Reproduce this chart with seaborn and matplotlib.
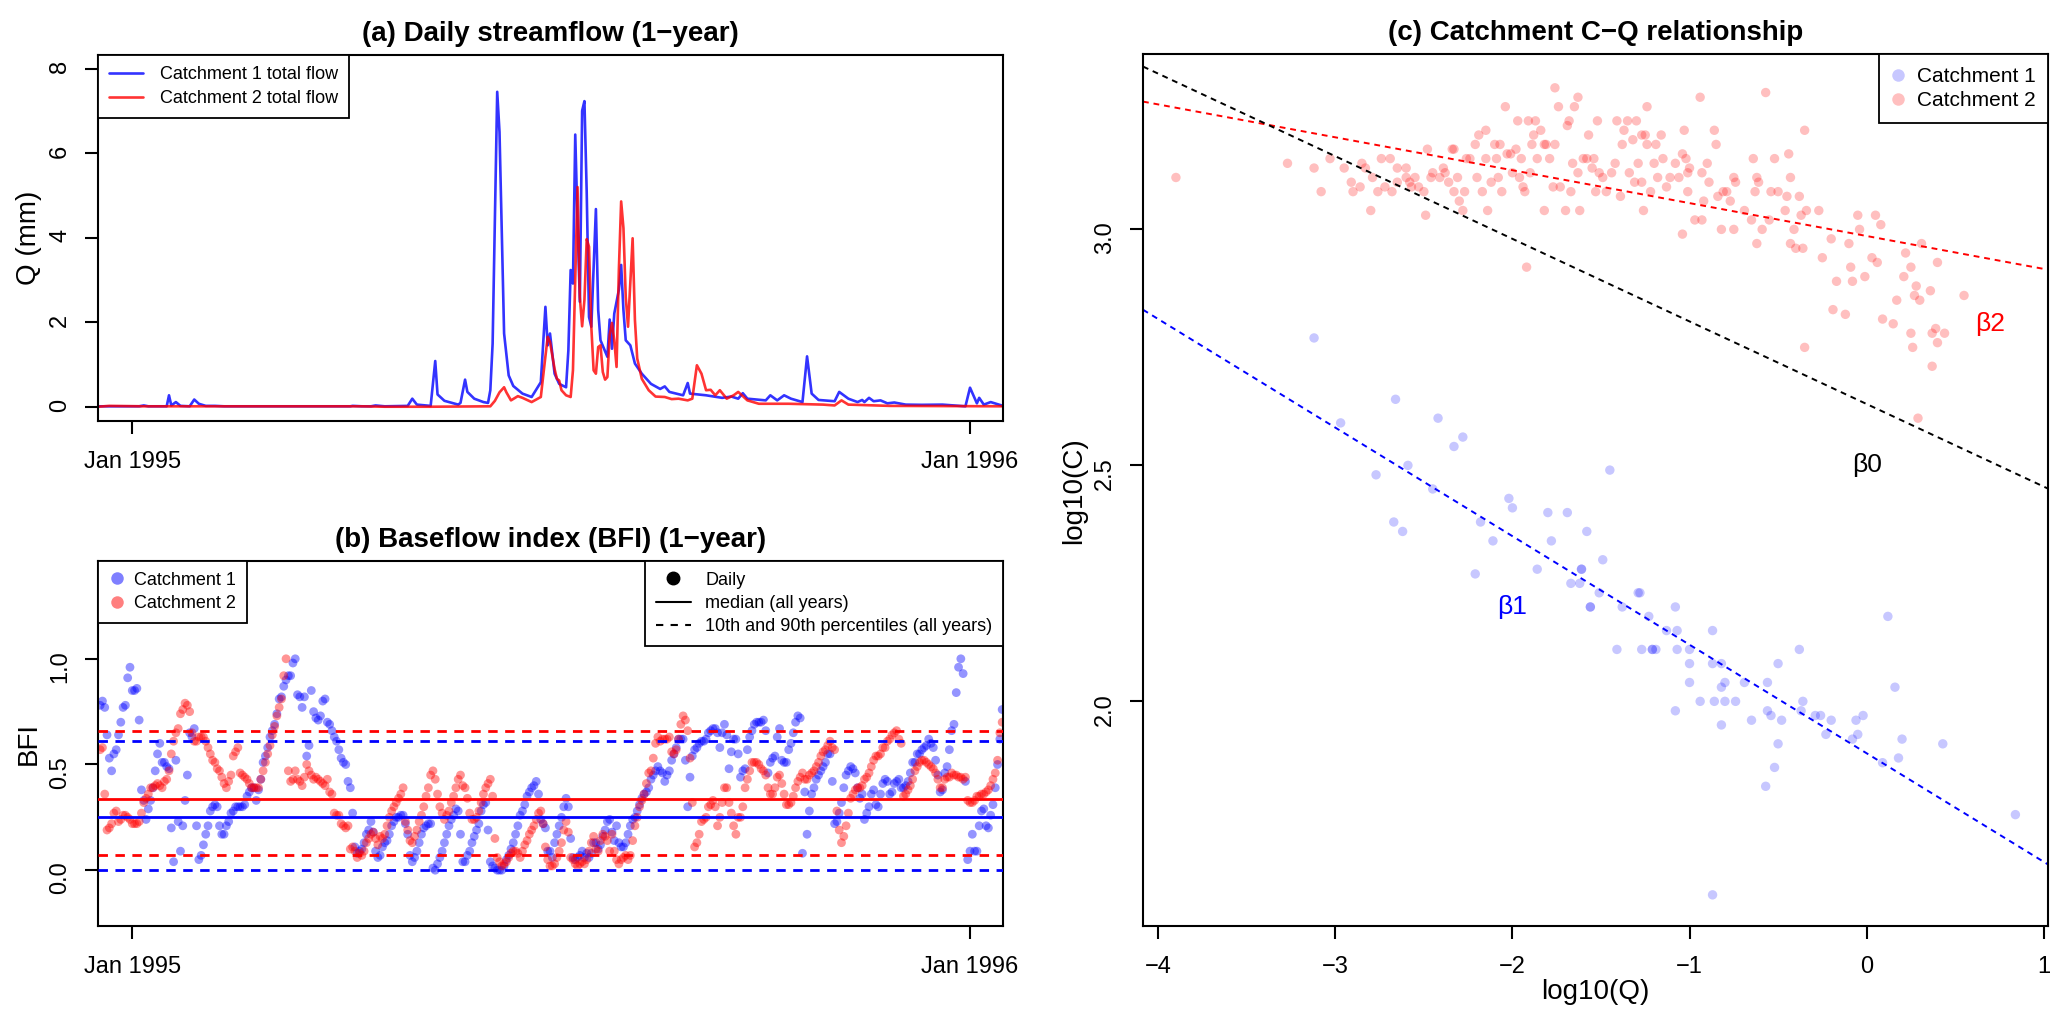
import pandas as pd
import matplotlib
matplotlib.use("Agg")
import matplotlib.pyplot as plt
import matplotlib.dates as mdates
from matplotlib.lines import Line2D
import seaborn as sns

# ---------------- data ----------------
start = pd.Timestamp("1995-01-01")

# (a) daily streamflow, days after 1 Jan 1995 and Q (mm)
flow_day_c1 = [-15, 3, 5, 7, 15, 16, 17, 19, 21, 25, 27, 29, 32, 36, 40, 95, 96, 100, 104, 106,
               110, 120, 122, 124, 130, 132, 133, 136, 142, 143, 145, 146, 149, 153, 155, 156, 157, 159, 160, 162,
               164, 166, 170, 174, 178, 180, 181, 182, 184, 186, 189, 190, 191, 192, 193, 194, 195, 196, 197, 198,
               199, 200, 202, 203, 204, 207, 208, 209, 210, 212, 213, 214, 215, 217, 219, 222, 226, 230, 232, 234,
               240, 242, 243, 250, 257, 261, 264, 266, 268, 276, 278, 281, 284, 287, 292, 294, 296, 299, 306, 308,
               312, 316, 318, 319, 321, 323, 326, 329, 332, 337, 344, 353, 363, 365, 368, 369, 371, 374, 380]
flow_q_c1 = [0.02, 0.02, 0.04, 0.02, 0.02, 0.28, 0.04, 0.12, 0.03, 0.02, 0.18, 0.08, 0.03, 0.03, 0.02, 0.02, 0.03, 0.02, 0.02, 0.04,
             0.02, 0.03, 0.20, 0.06, 0.03, 1.09, 0.30, 0.15, 0.06, 0.10, 0.65, 0.36, 0.20, 0.12, 0.10, 0.40, 1.50, 7.45, 6.50, 1.74,
             0.75, 0.50, 0.32, 0.24, 0.59, 2.37, 1.46, 1.74, 0.79, 0.55, 0.47, 1.34, 3.24, 2.92, 6.44, 4.35, 2.49, 7.00, 7.23, 5.06,
             2.13, 1.90, 4.68, 2.29, 1.58, 1.19, 2.07, 1.38, 2.21, 2.77, 3.36, 2.29, 1.58, 1.46, 1.03, 0.79, 0.55, 0.43, 0.49, 0.36,
             0.28, 0.57, 0.32, 0.28, 0.22, 0.25, 0.20, 0.33, 0.20, 0.16, 0.28, 0.16, 0.28, 0.20, 0.12, 1.20, 0.32, 0.17, 0.14, 0.36,
             0.20, 0.12, 0.17, 0.12, 0.22, 0.14, 0.16, 0.09, 0.11, 0.06, 0.055, 0.06, 0.02, 0.46, 0.09, 0.22, 0.06, 0.12, 0.02]
flow_day_c2 = [-15, -10, 5, 100, 110, 130, 156, 158, 160, 162, 163, 165, 168, 170, 174, 178, 180, 181, 182, 184,
               185, 186, 187, 189, 191, 192, 194, 195, 196, 197, 198, 199, 200, 201, 202, 203, 204, 205, 206, 207,
               208, 209, 210, 211, 212, 213, 214, 215, 216, 218, 219, 220, 222, 225, 228, 232, 235, 238, 242, 244,
               246, 248, 250, 252, 254, 256, 259, 262, 264, 268, 273, 286, 301, 306, 309, 312, 330, 380]
flow_q_c2 = [0.01, 0.03, 0.02, 0.02, 0.01, 0.01, 0.02, 0.15, 0.35, 0.47, 0.35, 0.16, 0.26, 0.22, 0.12, 0.24, 1.20, 1.66, 1.54, 0.90,
             0.67, 0.63, 0.40, 0.28, 0.24, 0.87, 5.20, 2.60, 1.91, 2.53, 3.97, 3.79, 1.90, 0.87, 0.79, 1.42, 1.46, 0.83, 0.65, 0.71,
             1.70, 1.99, 1.58, 0.95, 3.24, 4.86, 4.23, 2.60, 1.90, 3.99, 2.06, 1.15, 0.67, 0.40, 0.25, 0.24, 0.19, 0.20, 0.16, 0.20,
             0.99, 0.79, 0.40, 0.41, 0.28, 0.40, 0.20, 0.28, 0.36, 0.16, 0.08, 0.08, 0.06, 0.04, 0.16, 0.06, 0.03, 0.02]

# (b) daily baseflow index, one value per day from 18 Dec 1994
bfi_start = pd.Timestamp("1994-12-18")
bfi_c1 = [0.78, 0.80, 0.77, 0.64, 0.53, 0.47, 0.55, 0.57, 0.64, 0.70, 0.77, 0.78, 0.91, 0.96, 0.85, 0.85, 0.86, 0.71,
          0.38, 0.33, 0.24, 0.29, 0.33, 0.39, 0.47, 0.55, 0.60, 0.51, 0.51, 0.49, 0.48,
          0.20, 0.04, 0.52, 0.23, 0.09, 0.21, 0.33, 0.45, 0.65, 0.63, 0.67, 0.21, 0.05,
          0.07, 0.12, 0.17, 0.21, 0.28, 0.30, 0.31, 0.30, 0.21, 0.17, 0.17, 0.21, 0.23, 0.27, 0.28, 0.30, 0.30, 0.30,
          0.30, 0.31, 0.35, 0.37, 0.39, 0.39, 0.33, 0.38,
          0.43, 0.51, 0.54, 0.58, 0.63, 0.66, 0.69, 0.74, 0.81, 0.82, 0.87, 0.90, 0.92, 0.92, 0.98, 1.00,
          0.83, 0.82, 0.77, 0.82, 0.54, 0.59, 0.85, 0.75, 0.72, 0.71, 0.73, 0.80, 0.81, 0.70, 0.69, 0.66, 0.63, 0.61,
          0.57, 0.53, 0.51, 0.50, 0.42, 0.39, 0.27,
          0.11, 0.08, 0.09, 0.10, 0.13, 0.17, 0.19, 0.23, 0.18, 0.09, 0.06, 0.07, 0.11, 0.13, 0.14, 0.17, 0.21, 0.23,
          0.25, 0.25, 0.26, 0.26, 0.22, 0.17, 0.07, 0.04, 0.06, 0.09, 0.13, 0.17, 0.20, 0.21, 0.22, 0.22,
          0.01, 0.00, 0.03, 0.06, 0.09, 0.13, 0.17, 0.21, 0.24, 0.26, 0.29, 0.28, 0.17, 0.04, 0.04, 0.07, 0.09, 0.13,
          0.16, 0.19, 0.22, 0.28, 0.31, 0.32,
          0.19, 0.04, 0.02, 0.01, 0.00, 0.00, 0.00, 0.02, 0.05, 0.07, 0.10, 0.13, 0.17, 0.21, 0.26, 0.28, 0.31, 0.35,
          0.37, 0.39, 0.40, 0.42,
          0.36, 0.24, 0.22, 0.20, 0.09, 0.09, 0.06, 0.13,
          0.17, 0.21, 0.25, 0.30, 0.34, 0.30, 0.15, 0.06, 0.05, 0.06, 0.07, 0.09, 0.06, 0.08, 0.06, 0.08,
          0.13, 0.13, 0.10, 0.12, 0.16, 0.19, 0.23, 0.24, 0.18, 0.14, 0.21, 0.13, 0.11, 0.11, 0.13, 0.17, 0.21, 0.24, 0.25,
          0.28, 0.31, 0.34, 0.36, 0.37, 0.39, 0.43, 0.45, 0.47, 0.49, 0.47, 0.46, 0.42, 0.45, 0.47, 0.52, 0.55, 0.58,
          0.62, 0.62, 0.62, 0.52,
          0.30, 0.44, 0.54, 0.57, 0.58, 0.60, 0.61, 0.61, 0.62, 0.65, 0.66, 0.67, 0.67, 0.65, 0.58, 0.65, 0.69, 0.64,
          0.48, 0.56, 0.62, 0.62, 0.55,
          0.44, 0.47, 0.48, 0.57, 0.63, 0.66, 0.69, 0.70, 0.70, 0.70, 0.71, 0.66, 0.46, 0.51, 0.53, 0.54, 0.63, 0.67,
          0.52, 0.51, 0.51, 0.57, 0.60, 0.65, 0.70, 0.73, 0.72,
          0.08, 0.37, 0.17, 0.28, 0.36, 0.39, 0.43, 0.45, 0.47, 0.49, 0.51, 0.55, 0.55, 0.42, 0.22, 0.23, 0.27, 0.32,
          0.39, 0.45, 0.47, 0.49, 0.48,
          0.46, 0.39, 0.34, 0.36, 0.24, 0.27, 0.30, 0.36, 0.38, 0.31, 0.30, 0.36, 0.41, 0.43, 0.42, 0.36, 0.37, 0.41,
          0.42, 0.43, 0.39, 0.39, 0.40,
          0.42, 0.46, 0.51, 0.51, 0.55, 0.55, 0.57, 0.58, 0.59, 0.62, 0.60, 0.58, 0.52, 0.45, 0.37, 0.38, 0.46, 0.49,
          0.57, 0.66, 0.69, 0.84, 0.96, 1.00, 0.93,
          0.42, 0.05, 0.09, 0.17, 0.09, 0.09, 0.21, 0.28, 0.29, 0.21, 0.20, 0.26, 0.31, 0.39, 0.50, 0.62, 0.76]
bfi_c2 = [0.57, 0.58, 0.36, 0.19, 0.20, 0.22, 0.27, 0.28, 0.23, 0.24, 0.26, 0.26, 0.25, 0.24, 0.22, 0.22, 0.22, 0.23,
          0.27, 0.32, 0.34, 0.36, 0.39, 0.39, 0.40, 0.41, 0.40, 0.39, 0.42, 0.43, 0.47, 0.55, 0.61, 0.65, 0.67, 0.74, 0.76,
          0.79, 0.78, 0.75, 0.65, 0.61, 0.61, 0.63, 0.63, 0.63, 0.61, 0.58, 0.55, 0.52, 0.51, 0.48, 0.47, 0.44, 0.41,
          0.39, 0.42,
          0.45, 0.54, 0.56, 0.58, 0.46, 0.45, 0.44, 0.43, 0.41, 0.39, 0.39, 0.39, 0.39, 0.43, 0.47, 0.51, 0.55, 0.59,
          0.64, 0.68, 0.73, 0.77, 0.81, 0.92, 1.00,
          0.47, 0.42, 0.43, 0.47, 0.43, 0.42, 0.40, 0.44, 0.50, 0.47, 0.45, 0.43, 0.44, 0.43, 0.42, 0.41, 0.40, 0.43,
          0.37, 0.36, 0.27, 0.26, 0.26, 0.22, 0.21, 0.20, 0.21,
          0.10, 0.11, 0.09, 0.06, 0.08, 0.07, 0.09, 0.13, 0.15, 0.17, 0.18, 0.15, 0.12, 0.16, 0.15, 0.17, 0.21, 0.25,
          0.28, 0.30, 0.32, 0.34, 0.36, 0.39,
          0.23, 0.19, 0.14, 0.13, 0.16, 0.19, 0.23, 0.26, 0.30, 0.35, 0.39, 0.45, 0.47, 0.43, 0.36, 0.30, 0.27, 0.24,
          0.26, 0.28, 0.32, 0.35, 0.39, 0.43, 0.45,
          0.40, 0.39, 0.34, 0.27, 0.24, 0.24, 0.25, 0.28, 0.32, 0.36, 0.39, 0.41, 0.43, 0.35, 0.15, 0.06, 0.04, 0.02,
          0.03, 0.04, 0.06, 0.08, 0.09,
          0.09, 0.08, 0.06, 0.09, 0.12, 0.14, 0.17, 0.19, 0.21, 0.24, 0.27, 0.28, 0.22, 0.11, 0.05, 0.02, 0.02, 0.03,
          0.06, 0.09, 0.13, 0.19, 0.23, 0.18, 0.06, 0.05, 0.03, 0.02, 0.03, 0.04, 0.03, 0.05,
          0.09, 0.13, 0.16, 0.10, 0.09, 0.14, 0.17, 0.16, 0.14, 0.09, 0.17, 0.09, 0.05, 0.03, 0.05, 0.06, 0.07, 0.05, 0.07,
          0.14, 0.21, 0.25, 0.30, 0.33, 0.36, 0.41, 0.46, 0.47, 0.53, 0.60, 0.63, 0.61, 0.62, 0.62, 0.62, 0.63, 0.56,
          0.55, 0.57, 0.62, 0.69, 0.73, 0.71, 0.66,
          0.53, 0.32, 0.11, 0.13, 0.17, 0.23, 0.24, 0.25, 0.30, 0.31, 0.33, 0.30, 0.21, 0.25, 0.32, 0.39, 0.39, 0.32,
          0.27, 0.21, 0.17, 0.25, 0.25,
          0.30, 0.39, 0.43, 0.47, 0.51, 0.51, 0.51, 0.50, 0.48, 0.47, 0.45, 0.39, 0.36, 0.36, 0.39, 0.44, 0.45, 0.41,
          0.36, 0.31, 0.31, 0.32, 0.35, 0.39, 0.42, 0.44,
          0.46, 0.43, 0.43, 0.45, 0.46, 0.47, 0.49, 0.51, 0.54, 0.56, 0.57, 0.59, 0.61, 0.58, 0.57, 0.28, 0.19, 0.13,
          0.16, 0.21, 0.27, 0.34, 0.36, 0.38,
          0.39, 0.39, 0.40, 0.43, 0.44, 0.46, 0.49, 0.52, 0.54, 0.54, 0.55, 0.58, 0.58, 0.61, 0.62, 0.64, 0.65, 0.66,
          0.62, 0.60, 0.35, 0.36, 0.38, 0.40,
          0.43, 0.47, 0.49, 0.51, 0.52, 0.52, 0.51, 0.50, 0.49, 0.48, 0.46, 0.43, 0.39, 0.39, 0.43, 0.44, 0.44, 0.46,
          0.45, 0.45, 0.44, 0.44, 0.43, 0.44,
          0.33, 0.32, 0.32, 0.33, 0.35, 0.35, 0.36, 0.36, 0.37, 0.38, 0.40, 0.43, 0.46, 0.52, 0.65, 0.70]
catchments = ["Catchment 1", "Catchment 2"]
colors = ["blue", "red"]
bfi_median = [0.25, 0.335]
bfi_p10 = [0.0, 0.072]
bfi_p90 = [0.611, 0.66]

# (c) C-Q pairs (log10 Q, log10 C)
cq_c1 = [(-3.12, 2.77), (-2.66, 2.64), (-2.97, 2.59), (-2.42, 2.60), (-2.28, 2.56), (-2.33, 2.54), (-2.59, 2.50),
         (-2.77, 2.48), (-2.45, 2.45), (-1.45, 2.49), (-2.02, 2.43), (-2.00, 2.41), (-2.67, 2.38), (-2.62, 2.36),
         (-2.18, 2.38), (-2.11, 2.34), (-1.80, 2.40), (-1.69, 2.40), (-1.78, 2.34), (-1.58, 2.36), (-1.49, 2.30),
         (-1.86, 2.28), (-2.21, 2.27), (-1.61, 2.28), (-1.61, 2.28), (-1.67, 2.25), (-1.62, 2.25), (-1.51, 2.23),
         (-1.29, 2.23), (-1.28, 2.23), (-1.56, 2.20), (-1.56, 2.20), (-1.38, 2.20), (-1.08, 2.20), (-1.23, 2.18),
         (-1.13, 2.15), (-1.07, 2.15), (-0.87, 2.15), (-1.41, 2.11), (-1.27, 2.11), (-1.21, 2.11), (-1.21, 2.11),
         (-1.19, 2.11), (-1.07, 2.11), (-1.00, 2.11), (-0.38, 2.11), (-1.00, 2.08), (-0.87, 2.08), (-0.82, 2.08),
         (-0.50, 2.08), (-1.00, 2.04), (-0.80, 2.04), (-0.69, 2.04), (-0.56, 2.04), (-0.82, 2.03), (-0.94, 2.00),
         (-0.86, 2.00), (-0.80, 2.00), (-0.74, 2.00), (-0.36, 2.00), (-1.08, 1.98), (-0.56, 1.98), (-0.54, 1.97),
         (-0.65, 1.96), (-0.82, 1.95), (-0.48, 1.96), (-0.37, 1.98), (-0.29, 1.97), (-0.26, 1.97), (-0.20, 1.96),
         (-0.06, 1.96), (-0.02, 1.97), (-0.23, 1.93), (-0.05, 1.93), (-0.08, 1.92), (0.20, 1.92), (-0.50, 1.91),
         (0.43, 1.91), (0.09, 1.87), (0.18, 1.88), (-0.52, 1.86), (-0.57, 1.82), (0.12, 2.18), (0.16, 2.03),
         (0.84, 1.76), (-0.87, 1.59)]
cq_c2 = [(-3.90, 3.11), (-3.27, 3.14), (-3.12, 3.13), (-3.08, 3.08), (-3.03, 3.15), (-2.95, 3.13), (-2.91, 3.10),
         (-2.90, 3.08), (-2.86, 3.09), (-2.85, 3.14), (-2.83, 3.13), (-2.80, 3.04), (-2.79, 3.11), (-2.76, 3.08),
         (-2.74, 3.15), (-2.72, 3.09), (-2.69, 3.15), (-2.68, 3.08), (-2.65, 3.13), (-2.65, 3.10), (-2.60, 3.13),
         (-2.60, 3.11), (-2.58, 3.10), (-2.57, 3.09), (-2.55, 3.11), (-2.53, 3.09), (-2.50, 3.08), (-2.49, 3.03),
         (-2.48, 3.17), (-2.46, 3.11), (-2.45, 3.12), (-2.41, 3.11), (-2.39, 3.13), (-2.38, 3.12), (-2.36, 3.10),
         (-2.34, 3.17), (-2.33, 3.17), (-2.33, 3.08), (-2.31, 3.11), (-2.30, 3.06), (-2.28, 3.04), (-2.27, 3.08),
         (-2.26, 3.15), (-2.24, 3.15), (-2.21, 3.18), (-2.20, 3.11), (-2.19, 3.20), (-2.17, 3.08), (-2.15, 3.15),
         (-2.15, 3.21), (-2.14, 3.04), (-2.12, 3.10), (-2.10, 3.18), (-2.09, 3.15), (-2.08, 3.11), (-2.07, 3.18),
         (-2.06, 3.08), (-2.04, 3.26), (-2.03, 3.16), (-2.01, 3.16), (-2.00, 3.12), (-1.98, 3.17), (-1.97, 3.23),
         (-1.96, 3.11), (-1.95, 3.15), (-1.94, 3.09), (-1.93, 3.08), (-1.92, 2.92), (-1.91, 3.23), (-1.90, 3.12),
         (-1.89, 3.18), (-1.88, 3.20), (-1.87, 3.23), (-1.86, 3.15), (-1.84, 3.21), (-1.82, 3.18), (-1.82, 3.04),
         (-1.81, 3.18), (-1.79, 3.15), (-1.77, 3.09), (-1.76, 3.30), (-1.76, 3.18), (-1.74, 3.26), (-1.73, 3.09),
         (-1.70, 3.04), (-1.69, 3.22), (-1.68, 3.23), (-1.67, 3.08), (-1.66, 3.14), (-1.65, 3.26), (-1.63, 3.28),
         (-1.63, 3.12), (-1.62, 3.04), (-1.60, 3.15), (-1.58, 3.15), (-1.57, 3.20), (-1.55, 3.13), (-1.54, 3.15),
         (-1.53, 3.08), (-1.52, 3.23), (-1.51, 3.12), (-1.49, 3.11), (-1.47, 3.08), (-1.44, 3.12), (-1.42, 3.14),
         (-1.41, 3.23), (-1.39, 3.07), (-1.38, 3.18), (-1.37, 3.21), (-1.35, 3.23), (-1.34, 3.12), (-1.32, 3.19),
         (-1.31, 3.10), (-1.30, 3.23), (-1.29, 3.14), (-1.27, 3.20), (-1.27, 3.10), (-1.26, 3.04), (-1.25, 3.20),
         (-1.24, 3.26), (-1.24, 3.18), (-1.22, 3.08), (-1.20, 3.14), (-1.19, 3.18), (-1.18, 3.11), (-1.16, 3.20),
         (-1.15, 3.15), (-1.13, 3.09), (-1.11, 3.11), (-1.08, 3.14), (-1.06, 3.11), (-1.04, 3.16), (-1.04, 2.99),
         (-1.03, 3.21), (-1.02, 3.15), (-1.01, 3.08), (-1.01, 3.12), (-1.00, 3.13), (-0.97, 3.02), (-0.94, 3.28),
         (-0.93, 3.12), (-0.93, 3.02), (-0.92, 3.06), (-0.90, 3.14), (-0.89, 3.10), (-0.86, 3.21), (-0.85, 3.18),
         (-0.84, 3.07), (-0.82, 3.00), (-0.81, 3.08), (-0.79, 3.08), (-0.77, 3.06), (-0.75, 3.11), (-0.75, 3.00),
         (-0.74, 3.10), (-0.69, 3.04), (-0.65, 3.02), (-0.64, 3.15), (-0.63, 3.08), (-0.62, 3.11), (-0.62, 2.97),
         (-0.61, 3.10), (-0.59, 3.00), (-0.57, 3.29), (-0.55, 3.02), (-0.54, 3.08), (-0.52, 3.15), (-0.50, 3.08),
         (-0.46, 3.04), (-0.45, 3.07), (-0.44, 3.16), (-0.43, 3.11), (-0.43, 2.97), (-0.41, 3.00), (-0.40, 2.96),
         (-0.38, 3.07), (-0.37, 3.03), (-0.36, 2.96), (-0.35, 3.21), (-0.35, 2.75), (-0.34, 3.04), (-0.27, 3.04),
         (-0.25, 2.94), (-0.20, 2.98), (-0.19, 2.83), (-0.17, 2.89), (-0.12, 2.82), (-0.10, 2.97), (-0.09, 2.92),
         (-0.08, 2.89), (-0.05, 3.03), (-0.04, 3.00), (-0.01, 2.90), (0.03, 2.94), (0.05, 3.03), (0.06, 2.93),
         (0.08, 3.01), (0.09, 2.81), (0.15, 2.80), (0.17, 2.85), (0.21, 2.90), (0.22, 2.95), (0.25, 2.92),
         (0.25, 2.78), (0.26, 2.75), (0.27, 2.86), (0.28, 2.88), (0.29, 2.60), (0.30, 2.85), (0.31, 2.97),
         (0.36, 2.87), (0.37, 2.71), (0.37, 2.78), (0.39, 2.79), (0.40, 2.93), (0.40, 2.76), (0.44, 2.78),
         (0.55, 2.86)]
# fitted lines: beta1 (catchment 1), beta2 (catchment 2), beta0 (pooled)
fit_names = ["\u03b21", "\u03b22", "\u03b20"]
fit_colors = ["blue", "red", "black"]
fit_intercept = [1.89, 2.986, 2.63]
fit_slope = [-0.23, -0.0697, -0.175]
fit_label_x = [-2.0, 0.70, 0.0]
fit_label_y = [2.20, 2.80, 2.50]

# ---------------- figure ----------------
sns.set_theme(style="ticks", rc={"axes.edgecolor": "black", "text.color": "black",
                                 "xtick.color": "black", "ytick.color": "black",
                                 "axes.labelcolor": "black"})
plt.rcParams["font.family"] = ["Liberation Sans", "DejaVu Sans"]

fig = plt.figure(figsize=(20.67, 10.29), dpi=100)
ax_a = fig.add_axes([0.04756, 0.59116, 0.43783, 0.35540])
ax_b = fig.add_axes([0.04756, 0.10010, 0.43783, 0.35500])
ax_c = fig.add_axes([0.55297, 0.10010, 0.43783, 0.84713])

for ax in (ax_a, ax_b, ax_c):
    for sp in ax.spines.values():
        sp.set_linewidth(1.5)
        sp.set_visible(True)
    ax.tick_params(direction="out", length=9.5, width=1.5, labelsize=17)
    ax.tick_params(axis="x", pad=12)
    ax.tick_params(axis="y", pad=10, labelrotation=90)
    ax.grid(False)

leg_kw = dict(frameon=True, fancybox=False, framealpha=1, edgecolor="black", borderaxespad=0)

# ---- (a) streamflow ----
flow_days = [flow_day_c1, flow_day_c2]
flow_vals = [flow_q_c1, flow_q_c2]
for days, q, col in zip(flow_days, flow_vals, colors):
    df = pd.DataFrame({"date": start + pd.to_timedelta(days, unit="D"), "Q": q})
    sns.lineplot(data=df, x="date", y="Q", ax=ax_a, color=col, alpha=0.8, lw=1.9,
                 estimator=None, sort=False)

# ---- (b) BFI ----
bfi_dates = pd.date_range(bfi_start, periods=len(bfi_c1), freq="D")
df_bfi = pd.concat([
    pd.DataFrame({"date": bfi_dates, "BFI": bfi_c1, "catchment": catchments[0]}),
    pd.DataFrame({"date": bfi_dates, "BFI": bfi_c2, "catchment": catchments[1]}),
])
sns.scatterplot(data=df_bfi, x="date", y="BFI", hue="catchment",
                palette=dict(zip(catchments, colors)), alpha=0.42, s=40,
                edgecolor="none", legend=False, ax=ax_b)
dash = (0, (3.4, 2.7))
for col, med, lo, hi in zip(colors, bfi_median, bfi_p10, bfi_p90):
    ax_b.axhline(med, color=col, lw=2.0, zorder=3)
    ax_b.axhline(lo, color=col, lw=2.0, ls=dash, zorder=3)
    ax_b.axhline(hi, color=col, lw=2.0, ls=dash, zorder=3)

xlo = start - pd.Timedelta(days=14.8)
xhi = start + pd.Timedelta(days=379.5)
tick_dates = [pd.Timestamp("1995-01-01"), pd.Timestamp("1996-01-01")]
for ax in (ax_a, ax_b):
    ax.set_xlim(mdates.date2num(xlo), mdates.date2num(xhi))
    ax.set_xticks(mdates.date2num(tick_dates))
    ax.set_xticklabels([d.strftime("%b %Y") for d in tick_dates])
    ax.set_xlabel("")

ax_a.set_ylim(-0.32, 8.32)
ax_a.set_yticks([0, 2, 4, 6, 8])
ax_a.set_ylabel("Q (mm)", fontsize=20)
ax_a.yaxis.set_label_coords(-0.062, 0.5)
ax_a.set_title("(a) Daily streamflow (1\u2212year)", fontsize=20, fontweight="bold", pad=10)
h_a = [Line2D([], [], color=c, alpha=0.8, lw=1.9) for c in colors]
leg = ax_a.legend(h_a, [f"{c} total flow" for c in catchments], loc="upper left", fontsize=13,
                  handlelength=1.9, handletextpad=0.9, borderpad=0.6, labelspacing=0.4, **leg_kw)
leg.get_frame().set_linewidth(1.3)

ax_b.set_ylim(-0.264, 1.464)
ax_b.set_yticks([0.0, 0.5, 1.0])
ax_b.set_yticklabels(["0.0", "0.5", "1.0"])
ax_b.set_ylabel("BFI", fontsize=20)
ax_b.yaxis.set_label_coords(-0.062, 0.5)
ax_b.set_title("(b) Baseflow index (BFI) (1\u2212year)", fontsize=20, fontweight="bold", pad=10)
h_b1 = [Line2D([], [], ls="none", marker="o", markersize=9, color=c, alpha=0.5, markeredgewidth=0)
        for c in colors]
leg1 = ax_b.legend(h_b1, catchments, loc="upper left", fontsize=13, handlelength=0.9,
                   handletextpad=0.5, borderpad=0.6, labelspacing=0.35, **leg_kw)
leg1.get_frame().set_linewidth(1.3)
ax_b.add_artist(leg1)
h_b2 = [Line2D([], [], ls="none", marker="o", markersize=9, color="black"),
        Line2D([], [], color="black", lw=1.5),
        Line2D([], [], color="black", lw=1.5, ls=(0, (3.5, 3.5)))]
leg2 = ax_b.legend(h_b2, ["Daily", "median (all years)", "10th and 90th percentiles (all years)"],
                   loc="upper right", fontsize=13, handlelength=1.95, handletextpad=0.8,
                   borderpad=0.6, labelspacing=0.35, **leg_kw)
leg2.get_frame().set_linewidth(1.3)

# ---- (c) C-Q ----
cq_sets = [cq_c1, cq_c2]
cq_alpha = [0.22, 0.25]
for pts, col, a in zip(cq_sets, colors, cq_alpha):
    df = pd.DataFrame(pts, columns=["logQ", "logC"])
    sns.scatterplot(data=df, x="logQ", y="logC", color=col, alpha=a, s=46,
                    edgecolor="none", ax=ax_c)
for name, col, b0, m, tx, ty in zip(fit_names, fit_colors, fit_intercept, fit_slope,
                                   fit_label_x, fit_label_y):
    ax_c.axline((0, b0), slope=m, color=col, lw=1.4, ls=(0, (3.0, 2.5)))
    ax_c.text(tx, ty, name, color=col, fontsize=19, ha="center", va="center")

ax_c.set_xlim(-4.086, 1.024)
ax_c.set_ylim(1.524, 3.371)
ax_c.set_xticks([-4, -3, -2, -1, 0, 1])
ax_c.set_yticks([2.0, 2.5, 3.0])
ax_c.set_yticklabels(["2.0", "2.5", "3.0"])
ax_c.set_xlabel("log10(Q)", fontsize=20)
ax_c.set_ylabel("log10(C)", fontsize=20)
ax_c.xaxis.set_label_coords(0.5, -0.061)
ax_c.yaxis.set_label_coords(-0.062, 0.5)
ax_c.set_title("(c) Catchment C\u2212Q relationship", fontsize=20, fontweight="bold", pad=10)
h_c = [Line2D([], [], ls="none", marker="o", markersize=9, color=c, alpha=a, markeredgewidth=0)
       for c, a in zip(colors, cq_alpha)]
leg3 = ax_c.legend(h_c, catchments, loc="upper right", fontsize=15, handlelength=0.6,
                   handletextpad=0.6, borderpad=0.6, labelspacing=0.25, **leg_kw)
leg3.get_frame().set_linewidth(1.3)

fig.savefig("out.png", dpi=100, facecolor="white")
